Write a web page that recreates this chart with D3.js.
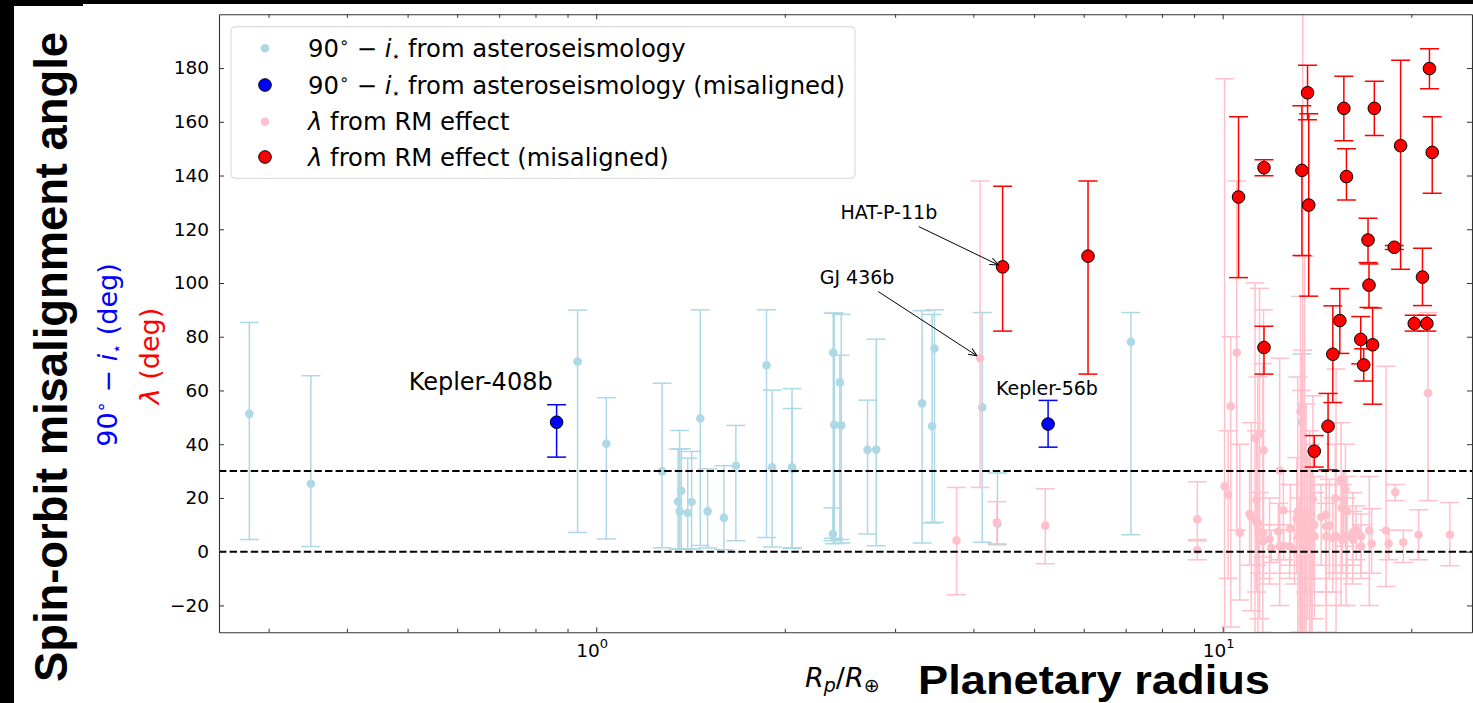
<!DOCTYPE html>
<html><head><meta charset="utf-8">
<script src="https://cdn.jsdelivr.net/npm/d3@7"></script>
<style>body{margin:0;background:#fff} svg{display:block}</style>
</head><body>
<svg id="chart" width="1473" height="703"></svg>
<script>
// ---- data: [Rp/R_earth, angle, lower bound, upper bound] ----
const asteroAligned = [
  [0.2795, 51.3, 4.5, 85.3], [0.3504, 25.3, 1.9, 65.5], [0.934, 70.8, 7.1, 89.9],
  [1.038, 40.2, 4.7, 57.3], [1.274, 29.9, 1.5, 62.7], [1.351, 18.7, 1.0, 38.2],
  [1.359, 15.0, 1.0, 45.1], [1.367, 22.7, 1.0, 38.3], [1.400, 14.4, 1.0, 34.8],
  [1.420, 18.5, 1.0, 37.3], [1.466, 49.6, 2.3, 90], [1.506, 15.0, 1.4, 30.8],
  [1.599, 12.6, 0.7, 32.0], [1.671, 32.0, 4.1, 47.0], [1.870, 69.4, 5.3, 90],
  [1.909, 31.4, 1.7, 60.1], [2.054, 31.4, 1.5, 60.7], [2.054, 30.8, 1.2, 53.3],
  [2.390, 74.1, 5.0, 88.8], [2.399, 47.2, 3.0, 88.8], [2.387, 6.6, 4.1, 16.3],
  [2.449, 63.0, 4.5, 73.1], [2.461, 47.0, 3.2, 88.3], [2.711, 37.9, 6.6, 56.4],
  [2.799, 38.0, 2.2, 79.1], [3.313, 55.2, 3.2, 89.7], [3.437, 46.7, 10.7, 88.3],
  [3.467, 75.6, 11.0, 90], [4.132, 53.8, 3.5, 89], [4.37, 10.4, 2.6, 29.3],
  [7.137, 78.1, 6.3, 89], [13.39, 48.2, 5.1, 73.6]
];
const asteroMisaligned = [
  [0.8646, 48.2, 35.2, 54.7], [5.264, 47.5, 38.9, 56.3]
];
const rmAligned = [
  [3.76, 4.2, -16, 23.9], [4.10, 72.0, 23.9, 138], [4.36, 10.9, 3, 18.6], [5.21, 9.7, -4.5, 23.4],
  [9.11, 12.1, 4.5, 26], [9.11, 0.6, -3, 4], [10.07, 24.3, -35, 176], [10.20, 21.2, -10, 45],
  [10.30, 54.1, -28, 80], [10.53, 74.1, 8, 138], [10.65, 7.1, -18, 40], [11.04, 14.0, -5, 30],
  [11.11, 12.9, -22, 48], [11.26, 42.3, -35, 100], [11.45, 43.9, -25, 98], [11.62, 37.7, -10, 90],
  [11.32, 19.3, -5, 45], [11.32, 11.3, -15, 30], [11.43, 7.5, -8, 22], [11.59, 3.8, -2, 10],
  [11.88, 4.7, -12, 20], [11.95, 1.4, -4, 8], [12.27, 7.5, -3, 18], [12.33, 30.2, -20, 72],
  [12.50, 15.4, 2, 30], [12.51, 2.2, -3, 8], [12.82, 8.6, -5, 25], [13.02, 0.7, -12, 15],
  [13.13, 12.2, -8, 35], [13.31, 52.2, -40, 95], [13.42, 54.1, -40, 250], [13.51, 34.8, -35, 110],
  [13.35, 8.8, -30, 60], [13.59, 13.8, -35, 55], [13.80, 14.4, -20, 40], [13.93, 19.7, -10, 58],
  [13.89, 10.0, -30, 30], [13.67, 5.7, -25, 35], [14.01, 5.7, -15, 22], [14.36, 12.9, -5, 25],
  [14.63, 13.8, -20, 30], [14.80, 9.8, -10, 27], [14.63, 5.7, -30, 18], [14.99, 5.1, -15, 20],
  [15.13, 19.9, -8, 40], [15.45, 26.5, -20, 48], [15.70, 23.1, 2, 40], [15.60, 19.3, 5, 30],
  [15.49, 16.3, -5, 30], [15.80, 15.0, -10, 28], [15.51, 4.5, -8, 25], [16.13, 7.2, -5, 22],
  [16.33, 8.2, -3, 17], [16.63, 2.0, -8, 10], [17.14, 7.9, -20, 28], [17.29, 3.0, -8, 16],
  [18.23, 7.9, -13, 69], [18.40, 3.0, -3, 8], [18.86, 22.1, 19, 25], [19.42, 3.5, -4, 8],
  [20.54, 6.3, -3, 15.6], [21.27, 59.0, 19, 89], [23.05, 6.3, -5.2, 18.3],
  [13.18, 15.0, -40, 65], [13.42, 11.9, -40, 75], [13.76, 8.8, -35, 45], [14.01, 10.0, -25, 28],
  [13.26, 5.7, -30, 20], [13.84, 4.5, -40, 30], [13.56, 2.0, -15, 12], [12.79, 2.0, -10, 8],
  [11.59, 6.9, -30, 70], [11.38, 10.6, -35, 65], [12.33, 2.0, -8, 10], [14.63, 9.4, -15, 25],
  [15.17, 5.7, -35, 68], [15.74, 5.7, -20, 20], [16.13, 4.5, -12, 15], [16.63, 5.7, -10, 14]
];
const rmMisaligned = [
  [4.454, 106.0, 82.1, 136], [6.096, 110.0, 66.1, 138], [10.60, 132.0, 102, 161.9],
  [11.64, 142.9, 139.9, 145.9], [11.64, 76.0, 66.1, 83.9], [13.38, 141.9, 110.2, 166],
  [13.66, 170.8, 160.8, 181], [13.72, 129.0, 95.1, 163], [14.0, 37.4, 31.5, 43.2],
  [14.73, 46.7, 30.5, 58.9], [14.99, 73.5, 55.5, 91.5], [15.38, 86.0, 73.8, 97.9],
  [15.61, 165.0, 152.9, 176.9], [15.76, 139.6, 130.9, 150], [16.61, 79.0, 69.9, 87.5],
  [16.79, 69.5, 63.5, 75.5], [17.06, 116.0, 107.6, 124.1], [17.12, 99.2, 90.9, 107.1],
  [17.35, 77.0, 54.9, 90.7], [17.46, 165.0, 154.9, 175.1], [18.79, 113.3, 112.5, 114],
  [19.23, 151.1, 105.1, 182.9], [20.22, 84.9, 82.1, 88], [20.84, 102.2, 91.6, 112.9],
  [21.18, 84.9, 82.1, 88], [21.38, 179.8, 172.3, 187.2], [21.60, 148.6, 133.4, 161.9]
];
const yTicks = [-20, 0, 20, 40, 60, 80, 100, 120, 140, 160, 180];
const xMajor = [1, 10];
const xMinor = [0.3, 0.4, 0.5, 0.6, 0.7, 0.8, 0.9, 2, 3, 4, 5, 6, 7, 8, 9, 20];
const thresholds = [0, 30];
const legendItems = [
  {key: "astero", label: "asteroseismology"},
  {key: "asteroMis", label: "asteroseismology (misaligned)"},
  {key: "rm", label: "RM effect"},
  {key: "rmMis", label: "RM effect (misaligned)"}
];
const annotations = [
  {name: "Kepler-408b", tx: 0.5075, ty: 60.2, size: 24},
  {name: "Kepler-56b", tx: 4.346, ty: 58.4, size: 19},
  {name: "HAT-P-11b", tx: 2.455, ty: 123.8, size: 19, from: [3.272, 121], to: [4.387, 106.7]},
  {name: "GJ 436b", tx: 2.274, ty: 99.7, size: 19, from: [2.82, 96.8], to: [4.053, 72.9]}
];

// ---- layout ----
const W = 1473, H = 703;
const P = {left: 219, right: 1472, top: 14.3, bottom: 632.3};
const x = d3.scaleLog().domain([0.25, 25]).range([P.left, P.right]);
const y = d3.scaleLinear().domain([-30, 200]).range([P.bottom, P.top]);

const svg = d3.select("#chart");
svg.append("rect").attr("width", W).attr("height", H).attr("fill", "#fff");

const defs = svg.append("defs");
defs.append("clipPath").attr("id", "plotclip").append("rect")
  .attr("x", P.left).attr("y", P.top).attr("width", P.right - P.left).attr("height", P.bottom - P.top);
defs.append("marker").attr("id", "arrow").attr("viewBox", "0 0 10 10")
  .attr("refX", 9.5).attr("refY", 5).attr("markerWidth", 9).attr("markerHeight", 9)
  .attr("markerUnits", "userSpaceOnUse").attr("orient", "auto")
  .append("path").attr("d", "M0,1 L9.5,5 L0,9").attr("fill", "none").attr("stroke", "#000").attr("stroke-width", 1.1);

const plot = svg.append("g").attr("clip-path", "url(#plotclip)");

const CAP = 9.5;
function drawSeries(data, color, fill, r, edge) {
  const g = plot.append("g");
  const bars = g.append("g").attr("stroke", color).attr("stroke-width", 1.5).attr("fill", "none");
  data.forEach(d => {
    const cx = x(d[0]);
    bars.append("line").attr("x1", cx).attr("x2", cx).attr("y1", y(d[2])).attr("y2", y(d[3]));
    bars.append("line").attr("x1", cx - CAP).attr("x2", cx + CAP).attr("y1", y(d[2])).attr("y2", y(d[2]));
    bars.append("line").attr("x1", cx - CAP).attr("x2", cx + CAP).attr("y1", y(d[3])).attr("y2", y(d[3]));
  });
  g.append("g").selectAll("circle").data(data).join("circle")
    .attr("cx", d => x(d[0])).attr("cy", d => y(d[1])).attr("r", r)
    .attr("fill", fill).attr("stroke", edge || "none").attr("stroke-width", edge ? 1 : 0);
}
drawSeries(asteroAligned, "#add8e6", "#add8e6", 4.3);
drawSeries(asteroMisaligned, "#0000ff", "#0000ff", 6.3, "#000");
drawSeries(rmAligned, "#ffc0cb", "#ffc0cb", 4.3);
drawSeries(rmMisaligned, "#ff0000", "#ff0000", 6.3, "#000");

// threshold lines
plot.append("g").selectAll("line").data(thresholds).join("line")
  .attr("x1", P.left).attr("x2", P.right).attr("y1", d => y(d)).attr("y2", d => y(d))
  .attr("stroke", "#000").attr("stroke-width", 2).attr("stroke-dasharray", "7.4,3.2");

// ---- axes ----
const FONT = "'DejaVu Sans', sans-serif";
const axisColor = "#333";
function styleAxis(g) {
  g.selectAll(".domain").attr("stroke", axisColor).attr("stroke-width", 1.1);
  g.selectAll(".tick line").attr("stroke", axisColor).attr("stroke-width", 1);
}
// left
const gl = svg.append("g").attr("transform", `translate(${P.left},0)`)
  .call(d3.axisLeft(y).tickValues(yTicks).tickSize(-5).tickSizeOuter(0).tickPadding(10)
    .tickFormat(d => d < 0 ? "\u2212" + Math.abs(d) : d));
gl.selectAll("text").attr("font-family", FONT).attr("font-size", 18.5).attr("fill", "#000");
styleAxis(gl);
// right
const gr = svg.append("g").attr("transform", `translate(${P.right},0)`)
  .call(d3.axisRight(y).tickValues(yTicks).tickSize(-5).tickSizeOuter(0).tickFormat(""));
styleAxis(gr);
// bottom major
const gb = svg.append("g").attr("transform", `translate(0,${P.bottom})`)
  .call(d3.axisBottom(x).tickValues(xMajor).tickSize(-5).tickSizeOuter(0).tickFormat(""));
styleAxis(gb);
gb.selectAll(".tick").each(function(d) {
  const t = d3.select(this).append("text").attr("y", 24.5).attr("x", -4.5)
    .attr("text-anchor", "middle").attr("font-family", FONT).attr("font-size", 18.5).attr("fill", "#000");
  t.append("tspan").text("10");
  t.append("tspan").attr("font-size", 13).attr("dy", -9).text(Math.round(Math.log10(d)));
});
const gbm = svg.append("g").attr("transform", `translate(0,${P.bottom})`)
  .call(d3.axisBottom(x).tickValues(xMinor).tickSize(-3.5).tickSizeOuter(0).tickFormat(""));
styleAxis(gbm); gbm.select(".domain").remove();
// top
const gt = svg.append("g").attr("transform", `translate(0,${P.top})`)
  .call(d3.axisTop(x).tickValues(xMajor).tickSize(-5).tickSizeOuter(0).tickFormat(""));
styleAxis(gt);
const gtm = svg.append("g").attr("transform", `translate(0,${P.top})`)
  .call(d3.axisTop(x).tickValues(xMinor).tickSize(-3.5).tickSizeOuter(0).tickFormat(""));
styleAxis(gtm); gtm.select(".domain").remove();

// ---- annotations ----
const ann = svg.append("g").attr("font-family", FONT).attr("fill", "#000");
annotations.forEach(a => {
  ann.append("text").attr("x", x(a.tx) - (a.size > 20 ? 3 : 0)).attr("y", y(a.ty)).attr("font-size", a.size).text(a.name);
  if (a.from) {
    ann.append("line").attr("x1", x(a.from[0])).attr("y1", y(a.from[1]))
      .attr("x2", x(a.to[0])).attr("y2", y(a.to[1]))
      .attr("stroke", "#000").attr("stroke-width", 1).attr("marker-end", "url(#arrow)");
  }
});

// ---- legend ----
const lg = svg.append("g");
lg.append("rect").attr("x", 231).attr("y", 26.7).attr("width", 624).attr("height", 151.6)
  .attr("rx", 4).attr("fill", "#fff").attr("fill-opacity", 0.8).attr("stroke", "#d6d6d6").attr("stroke-width", 1);
const rowY = [48.3, 85, 121.7, 157];
const legStyle = {
  astero: {fill: "#add8e6", r: 4.3}, asteroMis: {fill: "#0000ff", r: 6.3, edge: "#000"},
  rm: {fill: "#ffc0cb", r: 4.3}, rmMis: {fill: "#ff0000", r: 6.3, edge: "#000"}
};
legendItems.forEach((it, i) => {
  const s = legStyle[it.key];
  lg.append("circle").attr("cx", 265).attr("cy", rowY[i]).attr("r", s.r).attr("fill", s.fill)
    .attr("stroke", s.edge || "none").attr("stroke-width", s.edge ? 1 : 0);
  const t = lg.append("text").attr("x", 308).attr("y", rowY[i] + 8.5)
    .attr("font-family", FONT).attr("font-size", 24.3).attr("fill", "#000");
  if (it.key.startsWith("astero")) {
    t.append("tspan").text("90");
    t.append("tspan").attr("font-size", 16).attr("dy", -9).text("\u2218");
    t.append("tspan").attr("dy", 9).text(" \u2212 ");
    t.append("tspan").attr("font-style", "italic").text("i");
    t.append("tspan").attr("font-size", 14).attr("dy", 4).text("\u22c6");
    t.append("tspan").attr("dy", -4).text(" from " + it.label);
  } else {
    t.append("tspan").attr("font-style", "italic").text("\u03bb");
    t.append("tspan").text(" from " + it.label);
  }
});

// ---- axis titles ----
svg.append("text").attr("transform", "translate(67,357) rotate(-90)")
  .attr("text-anchor", "middle").attr("font-family", "'Liberation Sans', Arial, sans-serif")
  .attr("font-weight", "bold").attr("font-size", 46)
  .attr("textLength", 650).attr("lengthAdjust", "spacingAndGlyphs")
  .text("Spin-orbit misalignment angle");
const bt = svg.append("text").attr("transform", "translate(117,355) rotate(-90)")
  .attr("text-anchor", "middle").attr("font-family", FONT).attr("font-size", 27).attr("fill", "#0000ff");
bt.append("tspan").text("90");
bt.append("tspan").attr("font-size", 18).attr("dy", -10).text("\u2218");
bt.append("tspan").attr("dy", 10).text(" \u2212 ");
bt.append("tspan").attr("font-style", "italic").text("i");
bt.append("tspan").attr("font-size", 16).attr("dy", 5).text("\u22c6");
bt.append("tspan").attr("dy", -5).text(" (deg)");
const rt = svg.append("text").attr("transform", "translate(159,356) rotate(-90)")
  .attr("text-anchor", "middle").attr("font-family", FONT).attr("font-size", 27).attr("fill", "#ff0000");
rt.append("tspan").attr("font-style", "italic").text("\u03bb");
rt.append("tspan").text(" (deg)");

const xt = svg.append("text").attr("x", 805).attr("y", 687)
  .attr("font-family", FONT).attr("font-size", 27).attr("fill", "#000");
xt.append("tspan").attr("font-style", "italic").text("R");
xt.append("tspan").attr("font-style", "italic").attr("font-size", 19).attr("dy", 5).text("p");
xt.append("tspan").attr("dy", -5).text("/");
xt.append("tspan").attr("font-style", "italic").text("R");
xt.append("tspan").attr("font-size", 19).attr("dy", 5).text("\u2295");
svg.append("text").attr("x", 918).attr("y", 694)
  .attr("font-family", "'Liberation Sans', Arial, sans-serif").attr("font-weight", "bold")
  .attr("font-size", 40).attr("textLength", 352).attr("lengthAdjust", "spacingAndGlyphs")
  .text("Planetary radius");

// ---- black border strips ----
svg.append("rect").attr("x", 0).attr("y", 0).attr("width", 14).attr("height", H).attr("fill", "#000");
svg.append("rect").attr("x", 0).attr("y", 0).attr("width", W).attr("height", 4).attr("fill", "#000");
svg.append("rect").attr("x", 0).attr("y", 0).attr("width", 83).attr("height", 6).attr("fill", "#000");
</script>
</body></html>
